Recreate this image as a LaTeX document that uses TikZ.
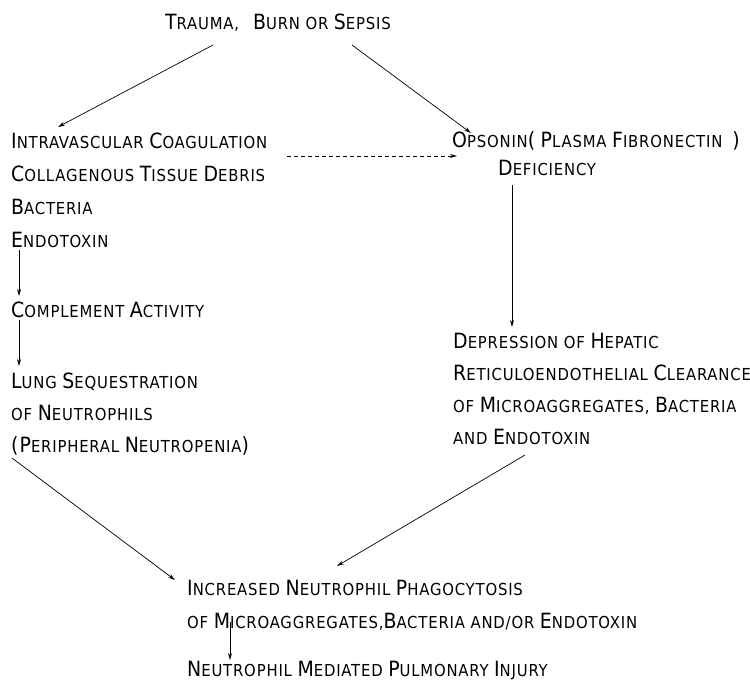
\documentclass[tikz,border=0pt]{standalone}
\usepackage{fontspec}
\setmainfont[LetterSpace=5]{DejaVu Sans Condensed}
\usetikzlibrary{arrows.meta}
\newcommand\C[1]{{\fontsize{21}{24}\selectfont #1}}
\tikzset{
  txt/.style={anchor=base west, inner sep=0pt, font=\fontsize{16.5}{19}\selectfont},
  arr/.style={line width=0.7pt, -{Stealth[length=7pt,width=4pt]}},
  darr/.style={arr, dash pattern=on 4pt off 3pt},
}
\begin{document}
\begin{tikzpicture}[x=1pt,y=-1pt]
\useasboundingbox (0,0) rectangle (750,681);
% top
\node[txt] (trauma) at (165,29) {\C{T}RAUMA,\hspace{14pt}\C{B}URN OR \C{S}EPSIS};
% left column
\node[txt] (intra) at (11,148) {\C{I}NTRAVASCULAR \C{C}OAGULATION};
\node[txt] (coll) at (11,181) {\C{C}OLLAGENOUS \C{T}ISSUE \C{D}EBRIS};
\node[txt] (bact) at (11,214) {\C{B}ACTERIA};
\node[txt] (endo) at (11,247) {\C{E}NDOTOXIN};
\node[txt] (compl) at (11,317) {\C{C}OMPLEMENT \C{A}CTIVITY};
\node[txt] (lung) at (11,388) {\C{L}UNG \C{S}EQUESTRATION};
\node[txt] (neut) at (11,420) {OF \C{N}EUTROPHILS};
\node[txt] (peri) at (11,452) {\C{(P}ERIPHERAL \C{N}EUTROPENIA\C{)}};
% right column
\node[txt] (ops) at (452,147) {\C{O}PSONIN\C{(} \C{P}LASMA \C{F}IBRONECTIN\hspace{10pt}\C{)}};
\node[txt] (defi) at (498,175) {\C{D}EFICIENCY};
\node[txt] (depr) at (453,348) {\C{D}EPRESSION OF \C{H}EPATIC};
\node[txt] (reti) at (453,380) {\C{R}ETICULOENDOTHELIAL \C{C}LEARANCE};
\node[txt] (micr) at (453,412) {OF \C{M}ICROAGGREGATES, \C{B}ACTERIA};
\node[txt] (andE) at (453,444) {AND \C{E}NDOTOXIN};
% bottom
\node[txt] (incr) at (187,595) {\C{I}NCREASED \C{N}EUTROPHIL \C{P}HAGOCYTOSIS};
\node[txt] (ofm) at (187,628) {OF \C{M}ICROAGGREGATES,\C{B}ACTERIA AND/OR \C{E}NDOTOXIN};
\node[txt] (inj) at (187,676) {\C{N}EUTROPHIL \C{M}EDIATED \C{P}ULMONARY \C{I}NJURY};
% connectors
\draw[arr] ([shift={(48,16)}]trauma.base west) -- ([shift={(47,-21)}]intra.base west);
\draw[arr] ([shift={(187,16)}]trauma.base west) -- ([shift={(19,-14)}]ops.base west);
\draw[darr] ([shift={(276,8)}]intra.base west) -- ([shift={(5,9)}]ops.base west);
\draw[arr] ([shift={(8,3)}]endo.base west) -- ([shift={(8,-21)}]compl.base west);
\draw[arr] ([shift={(8,3)}]compl.base west) -- ([shift={(8,-22)}]lung.base west);
\draw[arr] ([shift={(14,10)}]defi.base west) -- ([shift={(59,-21)}]depr.base west);
\draw[arr] ([shift={(1,6)}]peri.base west) -- ([shift={(-12,-15)}]incr.base west);
\draw[arr] ([shift={(72,11)}]andE.base west) -- ([shift={(150,-29)}]incr.base west);
\draw[arr] ([shift={(43,-6)}]ofm.base west) -- ([shift={(43,-16)}]inj.base west);
\end{tikzpicture}
\end{document}
